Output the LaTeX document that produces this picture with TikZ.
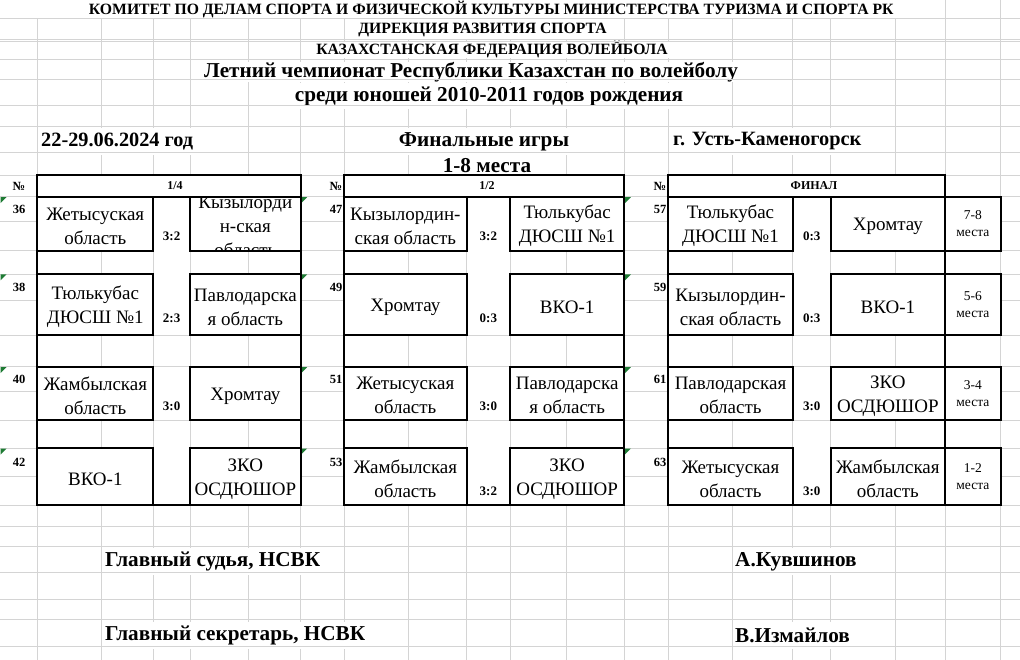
\documentclass[tikz,border=0pt]{standalone}
\usepackage{fontspec}
\setmainfont{Liberation Serif}
\usetikzlibrary{positioning}
\definecolor{gridgray}{HTML}{D4D4D4}
\definecolor{notegreen}{HTML}{1E7B34}
\tikzset{
  gridln/.style  ={draw=gridgray, line width=0.9pt},
  frame/.style   ={draw=black, line width=2.2pt},
  teambox/.style ={draw=black, line width=2.2pt, fill=white, inner sep=0pt},
  teamtxt/.style ={align=center, inner sep=0pt, font=\fontsize{19}{24}\selectfont},
  place/.style   ={teambox, align=center, font=\fontsize{13.5}{17}\selectfont},
  score/.style   ={font=\bfseries\fontsize{13}{15}\selectfont, inner sep=0pt},
  numtxt/.style  ={font=\bfseries\fontsize{12.5}{15}\selectfont, inner sep=0pt},
  head/.style    ={font=\bfseries\fontsize{12}{14}\selectfont, inner sep=0pt},
  title/.style   ={font=\bfseries\fontsize{15.7}{17}\selectfont, fill=white, inner xsep=2pt, inner ysep=0pt},
  bigtitle/.style={font=\bfseries\fontsize{21.2}{23}\selectfont, fill=white, inner xsep=2pt, inner ysep=0pt},
  label/.style   ={font=\bfseries\fontsize{20.3}{22}\selectfont, fill=white, inner xsep=2pt, inner ysep=0pt},
  biglabel/.style={label, font=\bfseries\fontsize{21.2}{23}\selectfont},
}

\begin{document}
\begin{tikzpicture}[x=1pt,y=-1pt]
  \useasboundingbox (0,0) rectangle (1020,660);
  \fill[white] (0,0) rectangle (1020,660);

  % sheet grid, columns first
  \foreach \gx in {37.3,101.7,153.3,190,248.3,300.7,344,408.3,466.7,510,566.7,624.3,668.3,732.7,792.7,830.7,895,945,1000.7}
    \draw[gridln] (\gx,0) -- (\gx,660);

  % headings (white behind the text hides the column lines)
  \node[title, minimum width=907.7pt, minimum height=18.3pt] (komitet) at (491.2,9.15) {КОМИТЕТ ПО ДЕЛАМ СПОРТА И ФИЗИЧЕСКОЙ КУЛЬТУРЫ МИНИСТЕРСТВА ТУРИЗМА И СПОРТА РК};
  \node[title, minimum height=21pt] (direk) at (482.5,29.5) {ДИРЕКЦИЯ РАЗВИТИЯ СПОРТА};
  \node[title, minimum height=17.6pt] (kfv) at (492,49.5) {КАЗАХСТАНСКАЯ ФЕДЕРАЦИЯ ВОЛЕЙБОЛА};
  \node[bigtitle, minimum height=19.7pt] (champ) at (471,72) {Летний чемпионат Республики Казахстан по волейболу};
  \node[bigtitle, minimum height=26.7pt] (sredi) at (489,96) {среди юношей 2010-2011 годов рождения};
  \node[label, minimum height=26.3pt, anchor=west] (dates) at (39,141.5) {22-29.06.2024 год};
  \node[biglabel, minimum height=26.3pt] (final) at (484,141.5) {Финальные игры};
  \node[biglabel, minimum height=22.7pt] (mesta) at (487,166) {1-8 места};
  \node[label, minimum height=26.3pt, anchor=west] (city) at (671,141.5) {г. Усть-Каменогорск};
  \node[biglabel, minimum height=26.7pt, anchor=west] (judge) at (103,561.5) {Главный судья, НСВК};
  \node[biglabel, minimum height=26.7pt, anchor=west] (judgename) at (733,561.5) {А.Кувшинов};
  \node[biglabel, minimum height=26.7pt, anchor=west] (secr) at (103,635.5) {Главный секретарь, НСВК};
  \node[biglabel, minimum height=26.7pt, anchor=west] (secrname) at (733,635.5) {В.Измайлов};

  % rows
  \foreach \gy in {18.3,39.3,41.7,59.3,79,105.7,126,152.3,175,196.7,221.7,250.7,274,300.7,335,366.7,391.7,420,448,476.7,505,526.7,546,572.7,599.3,619.3,646}
    \draw[gridln] (0,\gy) -- (1020,\gy);

  % comment markers
  \foreach \mx in {0,300.7,624.3}
    \foreach \my in {196.7,274,366.7,448}
      \fill[notegreen] (\mx+0.5,\my+0.5) -- ++(6,0) -- ++(-6,6) -- cycle;

  % table frames
  \fill[white] (37.3,175) rectangle (300.7,196.7);
  \fill[white] (344,175) rectangle (624.3,196.7);
  \fill[white] (668.3,175) rectangle (945,196.7);
  \foreach \yt/\yb in {196.7/250.7,274/335,366.7/420,448/505} {
    \fill[white] (153.3,\yt) rectangle (190,\yb);
    \fill[white] (466.7,\yt) rectangle (510,\yb);
    \fill[white] (792.7,\yt) rectangle (830.7,\yb);
  }
  \draw[frame] (37.3,175) rectangle (300.7,505) (37.3,196.7) -- (300.7,196.7);
  \draw[frame] (344,175) rectangle (624.3,505) (344,196.7) -- (624.3,196.7);
  \draw[frame] (668.3,175) rectangle (945,505) (668.3,196.7) -- (945,196.7);

  \node[numtxt] (hq) at (19,186) {№};
  \node[numtxt] (hs) at (336,186) {№};
  \node[numtxt] (hf) at (660,186) {№};
  \node[head] (quarter) at (175,186) {1/4};
  \node[head] (semi) at (487,186) {1/2};
  \node[head] (fin) at (814,186) {ФИНАЛ};

  % 1/4
  \foreach \n/\yt/\ym/\yb/\ta/\tb/\sc in {
      36/196.7/221.7/250.7/{Жетысуская\\область}/{}/3:2,
      38/274/300.7/335/{Тюлькубас\\ДЮСШ №1}/{Павлодарска\\я область}/2:3,
      40/366.7/391.7/420/{Жамбылская\\область}/{Хромтау}/3:0,
      42/448/476.7/505/{ВКО-1}/{ЗКО\\ОСДЮШОР}/{}} {
    \pgfmathsetmacro{\hh}{\yb-\yt}
    \node[numtxt] (n\n) at (19,{(\yt+\ym)/2}) {\n};
    \node[teambox, minimum width=116pt, minimum height=\hh pt] (a\n) at (95.3,{(\yt+\yb)/2}) {};
    \node[teamtxt] (ta\n) at ([yshift=-2.5pt]a\n.center) {\ta};
    \node[teambox, minimum width=110.7pt, minimum height=\hh pt] (b\n) at (245.35,{(\yt+\yb)/2}) {};
    \node[teamtxt] (tb\n) at ([yshift=-2.5pt]b\n.center) {\tb};
    \node[score] (sc\n) at (171.65,{(\ym+\yb)/2}) {\sc};
  }
  % text that runs out of its box
  \begin{scope}
    \clip (190,196.7) rectangle (300.7,250.7);
    \node[teamtxt] (kzo) at ([yshift=-2.5pt]b36.center) {Кызылорди\\н-ская\\область};
  \end{scope}

  % 1/2
  \foreach \n/\yt/\ym/\yb/\ta/\tb/\sc in {
      47/196.7/221.7/250.7/{Кызылордин-\\ская область}/{Тюлькубас\\ДЮСШ №1}/3:2,
      49/274/300.7/335/{Хромтау}/{ВКО-1}/0:3,
      51/366.7/391.7/420/{Жетысуская\\область}/{Павлодарска\\я область}/3:0,
      53/448/476.7/505/{Жамбылская\\область}/{ЗКО\\ОСДЮШОР}/3:2} {
    \pgfmathsetmacro{\hh}{\yb-\yt}
    \node[numtxt] (n\n) at (336,{(\yt+\ym)/2}) {\n};
    \node[teambox, minimum width=122.7pt, minimum height=\hh pt] (a\n) at (405.35,{(\yt+\yb)/2}) {};
    \node[teamtxt] (ta\n) at ([yshift=-2.5pt]a\n.center) {\ta};
    \node[teambox, minimum width=114.3pt, minimum height=\hh pt] (b\n) at (567.15,{(\yt+\yb)/2}) {};
    \node[teamtxt] (tb\n) at ([yshift=-2.5pt]b\n.center) {\tb};
    \node[score] (sc\n) at (488.35,{(\ym+\yb)/2}) {\sc};
  }

  % final
  \foreach \n/\yt/\ym/\yb/\ta/\tb/\sc/\pl in {
      57/196.7/221.7/250.7/{Тюлькубас\\ДЮСШ №1}/{Хромтау}/0:3/{7-8\\места},
      59/274/300.7/335/{Кызылордин-\\ская область}/{ВКО-1}/0:3/{5-6\\места},
      61/366.7/391.7/420/{Павлодарская\\область}/{ЗКО\\ОСДЮШОР}/3:0/{3-4\\места},
      63/448/476.7/505/{Жетысуская\\область}/{Жамбылская\\область}/3:0/{1-2\\места}} {
    \pgfmathsetmacro{\hh}{\yb-\yt}
    \node[numtxt] (n\n) at (660,{(\yt+\ym)/2}) {\n};
    \node[teambox, minimum width=124.4pt, minimum height=\hh pt] (a\n) at (730.5,{(\yt+\yb)/2}) {};
    \node[teamtxt] (ta\n) at ([yshift=-2.5pt]a\n.center) {\ta};
    \node[teambox, minimum width=114.3pt, minimum height=\hh pt] (b\n) at (887.85,{(\yt+\yb)/2}) {};
    \node[teamtxt] (tb\n) at ([yshift=-2.5pt]b\n.center) {\tb};
    \node[place, minimum width=55.7pt, minimum height=\hh pt] (p\n) at (972.85,{(\yt+\yb)/2}) {\pl};
    \node[score] (sc\n) at (811.7,{(\ym+\yb)/2}) {\sc};
  }
\end{tikzpicture}
\end{document}
